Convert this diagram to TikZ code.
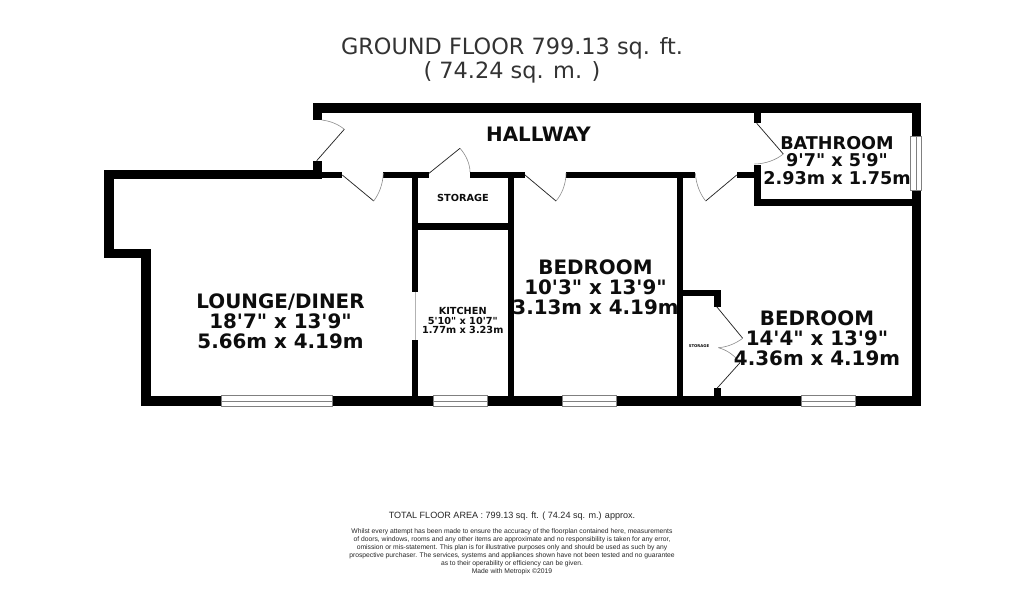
\documentclass[tikz,border=0pt]{standalone}
\usepackage{fontspec}
\setmainfont{DejaVu Sans}
\newfontfamily\lblfont{DejaVu Sans}
\newfontfamily\footfont{Liberation Sans}
\newcommand{\fsz}[2]{\fontsize{#1}{#2}\selectfont}
\tikzset{
  wall/.style={fill=black,draw=none},
  leaf/.style={draw=black!85,line width=0.55pt},
  swing/.style={draw=black!45,line width=0.45pt},
  pane/.style={draw=black!50,fill=white,line width=0.6pt},
  glassline/.style={draw=black!50,line width=0.6pt},
  room/.style={align=center,inner sep=0pt,text=black!95},
  bigroom/.style={room,font=\lblfont\bfseries\fsz{14.9}{15}},
}
\begin{document}
\begin{tikzpicture}[x=0.75pt,y=-0.75pt]
\useasboundingbox (0,0) rectangle (1024,591);
\fill[white] (0,0) rectangle (1024,591);
% walls
\fill[wall] (313,103.5) rectangle (921,113.5);
\fill[wall] (313,103.5) rectangle (322,120);
\fill[wall] (313,160.7) rectangle (322,179);
\fill[wall] (103.5,170) rectangle (318,179.3);
\fill[wall] (318,171.7) rectangle (342.3,178);
\fill[wall] (383.3,171.7) rectangle (429,178);
\fill[wall] (470,171.7) rectangle (525,178);
\fill[wall] (566,171.7) rectangle (695.3,178);
\fill[wall] (736.7,171.7) rectangle (755,178);
\fill[wall] (103.5,170) rectangle (113.5,258);
\fill[wall] (103.5,248.7) rectangle (150.7,258);
\fill[wall] (141,248.7) rectangle (150.7,406);
\fill[wall] (141,396.3) rectangle (921,406);
\fill[wall] (412,171.7) rectangle (418.3,291.7);
\fill[wall] (412,340.3) rectangle (418.3,400);
\fill[wall] (412,223.3) rectangle (514.3,230);
\fill[wall] (508,171.7) rectangle (514.3,400);
\fill[wall] (677,171.7) rectangle (683.3,400);
\fill[wall] (754.3,103.5) rectangle (761,123.3);
\fill[wall] (754.3,165) rectangle (760.5,206);
\fill[wall] (754.3,199.3) rectangle (921,206);
\fill[wall] (911.7,103.5) rectangle (921,406);
\fill[wall] (677,290) rectangle (720.7,296);
\fill[wall] (714.3,290) rectangle (720.7,306.7);
\fill[wall] (714.3,388.3) rectangle (720.7,400);
% kitchen opening
\draw[draw=black!30,line width=0.7pt] (415,291.7) -- (415,340.3);
% windows
\foreach \a/\b in {221/332.7,433/487.3,562.3/616.7,801/855.3}{
  \draw[pane] (\a,395.6) rectangle (\b,406.4);
  \draw[glassline] (\a,401) -- (\b,401);
}
\draw[pane] (910.6,136) rectangle (921.4,190);
\draw[glassline] (916,136) -- (916,190);
% doors
\draw[leaf] (316.7,160.7) -- (344.3,129.3);
\draw[swing] (344.3,129.3) .. controls (338,124) and (330,121) .. (321.7,120);
\draw[leaf] (342.3,175) -- (373.7,201);
\draw[swing] (373.7,201) .. controls (379,194) and (383,184) .. (383.3,173);
\draw[leaf] (429,173.3) -- (460,148.3);
\draw[swing] (460,148.3) .. controls (466,155) and (470,164) .. (470,172);
\draw[leaf] (525,175) -- (556,201);
\draw[swing] (556,201) .. controls (562,194) and (566,184) .. (566,173);
\draw[leaf] (736.7,175) -- (705.7,201);
\draw[swing] (705.7,201) .. controls (700,194) and (696,184) .. (695.3,173);
\draw[leaf] (756.7,123.3) -- (783.3,154);
\draw[swing] (783.3,154) .. controls (776,160) and (765,164) .. (754.3,164);
\draw[leaf] (716.7,306.7) -- (742.7,338.3);
\draw[swing] (742.7,338.3) .. controls (735,344) and (727,347) .. (718.3,347.7);
\draw[leaf] (717,388.3) -- (740,362.7);
\draw[swing] (740,362.7) .. controls (734,355) and (727,350) .. (718.3,347.7);
% labels
\node[bigroom] (hall) at (538.5,134.5) {HALLWAY};
\node[bigroom] (lounge) at (280.5,321) {LOUNGE/DINER\\18'7" x 13'9"\\5.66m x 4.19m};
\node[bigroom] (bed1) at (595.5,287.5) {BEDROOM\\10'3" x 13'9"\\3.13m x 4.19m};
\node[bigroom] (bed2) at (817,338) {BEDROOM\\14'4" x 13'9"\\4.36m x 4.19m};
\node[room,font=\lblfont\bfseries\fsz{13.2}{13.3}] (bath) at (837,160.5) {BATHROOM\\9'7" x 5'9"\\2.93m x 1.75m};
\node[room,font=\lblfont\bfseries\fsz{7.3}{7.3}] (kit) at (462.7,320.5) {KITCHEN\\5'10" x 10'7"\\1.77m x 3.23m};
\node[room,font=\lblfont\bfseries\fsz{7.3}{8}] (stor) at (463,197.5) {STORAGE};
\node[room,font=\lblfont\bfseries\fsz{2.9}{3}] (stor2) at (699,346) {STORAGE};
\node[align=center,inner sep=0pt,text=black!80,font=\lblfont\fsz{16.8}{18}] (title) at (512,60) {GROUND FLOOR 799.13 sq. ft.\\( 74.24 sq. m. )};
\node[inner sep=0pt,text=black!85,font=\footfont\fsz{6.8}{8}] (total) at (512,516.5) {TOTAL FLOOR AREA : 799.13 sq. ft. ( 74.24 sq. m.) approx.};
\node[align=center,inner sep=0pt,text=black!85,font=\footfont\fsz{5.06}{6.05}] (note) at (512,551.5) {Whilst every attempt has been made to ensure the accuracy of the floorplan contained here, measurements\\of doors, windows, rooms and any other items are approximate and no responsibility is taken for any error,\\omission or mis-statement. This plan is for illustrative purposes only and should be used as such by any\\prospective purchaser. The services, systems and appliances shown have not been tested and no guarantee\\as to their operability or efficiency can be given.\\Made with Metropix ©2019};
\end{tikzpicture}
\end{document}
